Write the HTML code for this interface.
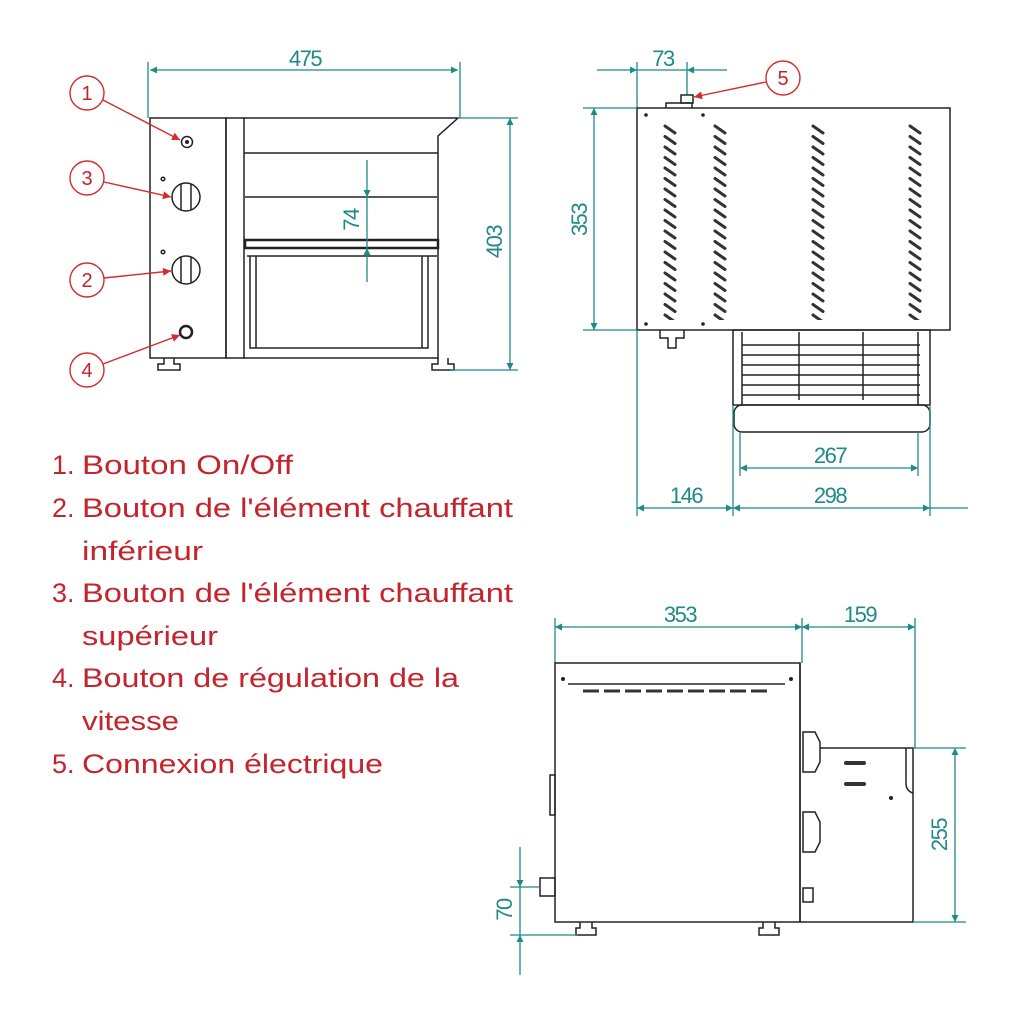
<!DOCTYPE html>
<html><head><meta charset="utf-8"><style>
html,body{margin:0;padding:0;background:#fff;width:1024px;height:1024px;overflow:hidden}
svg{display:block}
.k{stroke:#222;fill:none;stroke-width:1.5}
.t{stroke:#1f8a87;fill:none;stroke-width:1.3}
.dt{fill:#1f8a87;font-family:"Liberation Sans Narrow","Liberation Sans",sans-serif;font-size:22px;letter-spacing:-1.5px}
.r{stroke:#d42a2a;fill:none;stroke-width:1.4}
.lt{fill:#c4242c;font-family:"Liberation Sans",sans-serif;font-size:27px}
.ct{fill:#c4242c;font-family:"Liberation Sans",sans-serif;font-size:20px;text-anchor:middle}
</style></head><body>
<svg width="1024" height="1024" viewBox="0 0 1024 1024" xmlns="http://www.w3.org/2000/svg">
<defs>
<marker id="a" viewBox="0 0 10 10" refX="10" refY="5" markerWidth="9" markerHeight="7" orient="auto-start-reverse" markerUnits="userSpaceOnUse"><path d="M0,0L10,5L0,10z" fill="#1f8a87"/></marker>
<marker id="ra" viewBox="0 0 10 10" refX="10" refY="5" markerWidth="12" markerHeight="8" orient="auto" markerUnits="userSpaceOnUse"><path d="M0,0L10,5L0,10z" fill="#d42a2a"/></marker>
<pattern id="sl" width="20" height="10.5" patternUnits="userSpaceOnUse"><line x1="4" y1="2" x2="14" y2="9" stroke="#333" stroke-width="3" stroke-linecap="round"/></pattern>
</defs>

<!-- FRONT VIEW -->
<line class="t" x1="148" y1="62" x2="148" y2="118"/>
<line class="t" x1="460" y1="62" x2="460" y2="118"/>
<line class="t" x1="150" y1="70" x2="458" y2="70" marker-start="url(#a)" marker-end="url(#a)"/>
<text class="dt" x="305" y="66" text-anchor="middle">475</text>
<rect class="k" x="150" y="118" width="76" height="240"/>
<rect class="k" x="226" y="118" width="18" height="240"/>
<path class="k" d="M244,118H458L438,136V358H244"/>
<line class="k" x1="244" y1="153" x2="438" y2="153"/>
<line class="k" x1="245" y1="197" x2="437" y2="197"/>
<rect x="245" y="240" width="193" height="8" fill="none" stroke="#222" stroke-width="2.5"/>
<line class="k" x1="247" y1="256" x2="437" y2="256"/>
<path class="k" d="M250,256V348H428V256"/>
<line class="k" x1="256" y1="256" x2="256" y2="348"/>
<line class="k" x1="422" y1="256" x2="422" y2="348"/>
<path class="k" d="M164,358v6h-6v6h22v-6h-6v-6"/>
<path class="k" d="M438,358v6h-6v6h22v-6h-6v-6"/>
<circle class="k" cx="187" cy="142" r="5.5"/><circle cx="187" cy="142" r="2" fill="#222"/>
<circle class="k" cx="186" cy="197" r="14"/><line class="k" x1="181" y1="184" x2="181" y2="210"/><line class="k" x1="191" y1="184" x2="191" y2="210"/>
<circle class="k" cx="186" cy="270" r="14"/><line class="k" x1="181" y1="257" x2="181" y2="283"/><line class="k" x1="191" y1="257" x2="191" y2="283"/>
<circle cx="163" cy="179" r="1.8" class="k"/><circle cx="163" cy="252" r="1.8" class="k"/>
<circle cx="186" cy="332" r="6" stroke="#222" stroke-width="2.5" fill="none"/>
<line class="t" x1="367" y1="160" x2="367" y2="197" marker-end="url(#a)"/>
<line class="t" x1="367" y1="282" x2="367" y2="248" marker-end="url(#a)"/>
<line class="t" x1="367" y1="197" x2="367" y2="248"/>
<text class="dt" transform="translate(359,220) rotate(-90)" text-anchor="middle">74</text>
<line class="t" x1="458" y1="118" x2="518" y2="118"/>
<line class="t" x1="450" y1="370" x2="518" y2="370"/>
<line class="t" x1="510" y1="118" x2="510" y2="370" marker-start="url(#a)" marker-end="url(#a)"/>
<text class="dt" transform="translate(502,242) rotate(-90)" text-anchor="middle">403</text>
<!-- callouts -->
<circle class="r" cx="87" cy="93" r="17"/><text class="ct" x="87" y="100">1</text>
<line class="r" x1="103" y1="100" x2="180" y2="140" marker-end="url(#ra)"/>
<circle class="r" cx="87" cy="178" r="17"/><text class="ct" x="87" y="185">3</text>
<line class="r" x1="104" y1="182" x2="171" y2="197" marker-end="url(#ra)"/>
<circle class="r" cx="87" cy="280" r="17"/><text class="ct" x="87" y="287">2</text>
<line class="r" x1="104" y1="278" x2="171" y2="271" marker-end="url(#ra)"/>
<circle class="r" cx="87" cy="370" r="17"/><text class="ct" x="87" y="377">4</text>
<line class="r" x1="103" y1="364" x2="180" y2="335" marker-end="url(#ra)"/>

<!-- SIDE VIEW -->
<line class="t" x1="637" y1="62" x2="637" y2="108"/>
<line class="t" x1="687" y1="62" x2="687" y2="95"/>
<line class="t" x1="597" y1="70" x2="637" y2="70" marker-end="url(#a)"/>
<line class="t" x1="637" y1="70" x2="687" y2="70"/>
<line class="t" x1="727" y1="70" x2="687" y2="70" marker-end="url(#a)"/>
<text class="dt" x="663" y="66" text-anchor="middle">73</text>
<circle class="r" cx="783" cy="78" r="17"/><text class="ct" x="783" y="85">5</text>
<line class="r" x1="766" y1="82" x2="694" y2="97" marker-end="url(#ra)"/>
<rect class="k" x="637" y="108" width="313" height="222"/>
<path class="k" d="M666,108v-5h26v5"/><rect class="k" x="681" y="95" width="12" height="8"/>
<g transform="translate(661,124)"><rect width="20" height="196" fill="url(#sl)"/></g>
<g transform="translate(711,124)"><rect width="20" height="196" fill="url(#sl)"/></g>
<g transform="translate(809,124)"><rect width="20" height="196" fill="url(#sl)"/></g>
<g transform="translate(906,124)"><rect width="20" height="196" fill="url(#sl)"/></g>
<circle cx="646" cy="115" r="1.8" fill="#222"/><circle cx="703" cy="115" r="1.8" fill="#222"/>
<circle cx="646" cy="324" r="1.8" fill="#222"/><circle cx="703" cy="324" r="1.8" fill="#222"/>
<path class="k" d="M660,330v8h8v10h8v-10h8v-8"/>
<rect class="k" x="733" y="330" width="197" height="75"/>
<g class="k"><line x1="742" y1="345" x2="920" y2="345"/><line x1="742" y1="355" x2="920" y2="355"/><line x1="742" y1="365" x2="920" y2="365"/><line x1="742" y1="375" x2="920" y2="375"/><line x1="742" y1="385" x2="920" y2="385"/><line x1="742" y1="395" x2="920" y2="395"/>
<line x1="742" y1="332" x2="742" y2="405"/><line x1="799" y1="332" x2="799" y2="400"/><line x1="863" y1="332" x2="863" y2="400"/><line x1="918" y1="332" x2="918" y2="405"/></g>
<rect class="k" x="734" y="405" width="196" height="27" rx="8"/>
<line class="t" x1="583" y1="108" x2="637" y2="108"/>
<line class="t" x1="583" y1="330" x2="637" y2="330"/>
<line class="t" x1="594" y1="108" x2="594" y2="330" marker-start="url(#a)" marker-end="url(#a)"/>
<text class="dt" transform="translate(587,220) rotate(-90)" text-anchor="middle">353</text>
<line class="t" x1="637" y1="330" x2="637" y2="516"/>
<line class="t" x1="733" y1="405" x2="733" y2="516"/>
<line class="t" x1="930" y1="405" x2="930" y2="516"/>
<line class="t" x1="740" y1="432" x2="740" y2="476"/>
<line class="t" x1="918" y1="432" x2="918" y2="476"/>
<line class="t" x1="740" y1="468" x2="918" y2="468" marker-start="url(#a)" marker-end="url(#a)"/>
<text class="dt" x="830" y="463" text-anchor="middle">267</text>
<line class="t" x1="637" y1="508" x2="733" y2="508" marker-start="url(#a)" marker-end="url(#a)"/>
<line class="t" x1="733" y1="508" x2="930" y2="508" marker-start="url(#a)" marker-end="url(#a)"/>
<line class="t" x1="930" y1="508" x2="968" y2="508"/>
<text class="dt" x="686" y="503" text-anchor="middle">146</text>
<text class="dt" x="830" y="503" text-anchor="middle">298</text>

<!-- TOP / THIRD VIEW -->
<line class="t" x1="555" y1="618" x2="555" y2="663"/>
<line class="t" x1="802" y1="618" x2="802" y2="663"/>
<line class="t" x1="915" y1="618" x2="915" y2="748"/>
<line class="t" x1="555" y1="627" x2="802" y2="627" marker-start="url(#a)" marker-end="url(#a)"/>
<line class="t" x1="802" y1="627" x2="915" y2="627" marker-start="url(#a)" marker-end="url(#a)"/>
<text class="dt" x="680" y="622" text-anchor="middle">353</text>
<text class="dt" x="860" y="622" text-anchor="middle">159</text>
<rect class="k" x="555" y="663" width="245" height="259"/>
<line class="k" x1="800" y1="663" x2="800" y2="922" stroke-width="3"/>
<line class="k" x1="568" y1="684" x2="785" y2="684"/>
<circle cx="563" cy="679" r="2" fill="#222"/><circle cx="791" cy="679" r="2" fill="#222"/>
<line x1="583" y1="691" x2="772" y2="691" stroke="#333" stroke-width="3" stroke-dasharray="16,5"/>
<rect class="k" x="550" y="775" width="5" height="40"/>
<rect class="k" x="540" y="878" width="15" height="18"/>
<path class="k" d="M580,922v6h-4v7h20v-7h-4v-6"/>
<path class="k" d="M763,922v6h-4v7h20v-7h-4v-6"/>
<path class="k" d="M803,732h12l5,10v20l-5,10h-12z"/>
<path class="k" d="M803,812h12l5,10v20l-5,10h-12z"/>
<rect class="k" x="803" y="888" width="10" height="14"/>
<path class="k" d="M820,748H913V922H800"/>
<path class="k" d="M906,748v35q0,8 7,10"/>
<line x1="846" y1="763" x2="864" y2="763" stroke="#333" stroke-width="4" stroke-linecap="round"/>
<line x1="846" y1="784" x2="864" y2="784" stroke="#333" stroke-width="4" stroke-linecap="round"/>
<circle cx="891" cy="798" r="2" fill="#222"/>
<line class="t" x1="913" y1="748" x2="966" y2="748"/>
<line class="t" x1="913" y1="922" x2="966" y2="922"/>
<line class="t" x1="955" y1="748" x2="955" y2="922" marker-start="url(#a)" marker-end="url(#a)"/>
<text class="dt" transform="translate(947,835) rotate(-90)" text-anchor="middle">255</text>
<line class="t" x1="510" y1="887" x2="540" y2="887"/>
<line class="t" x1="510" y1="935" x2="578" y2="935"/>
<line class="t" x1="520" y1="847" x2="520" y2="887" marker-end="url(#a)"/>
<line class="t" x1="520" y1="975" x2="520" y2="935" marker-end="url(#a)"/>
<line class="t" x1="520" y1="887" x2="520" y2="935"/>
<text class="dt" transform="translate(512,910) rotate(-90)" text-anchor="middle">70</text>

<!-- LEGEND -->
<g class="lt">
<text x="52" y="474">1.</text><text x="82" y="474" textLength="211" lengthAdjust="spacingAndGlyphs">Bouton On/Off</text>
<text x="52" y="517">2.</text><text x="82" y="517" textLength="431" lengthAdjust="spacingAndGlyphs">Bouton de l'élément chauffant</text>
<text x="82" y="560" textLength="121" lengthAdjust="spacingAndGlyphs">inférieur</text>
<text x="52" y="602">3.</text><text x="82" y="602" textLength="431" lengthAdjust="spacingAndGlyphs">Bouton de l'élément chauffant</text>
<text x="82" y="645" textLength="136" lengthAdjust="spacingAndGlyphs">supérieur</text>
<text x="52" y="687">4.</text><text x="82" y="687" textLength="377" lengthAdjust="spacingAndGlyphs">Bouton de régulation de la</text>
<text x="82" y="730" textLength="97" lengthAdjust="spacingAndGlyphs">vitesse</text>
<text x="52" y="773">5.</text><text x="82" y="773" textLength="301" lengthAdjust="spacingAndGlyphs">Connexion électrique</text>
</g>
</svg>
</body></html>
